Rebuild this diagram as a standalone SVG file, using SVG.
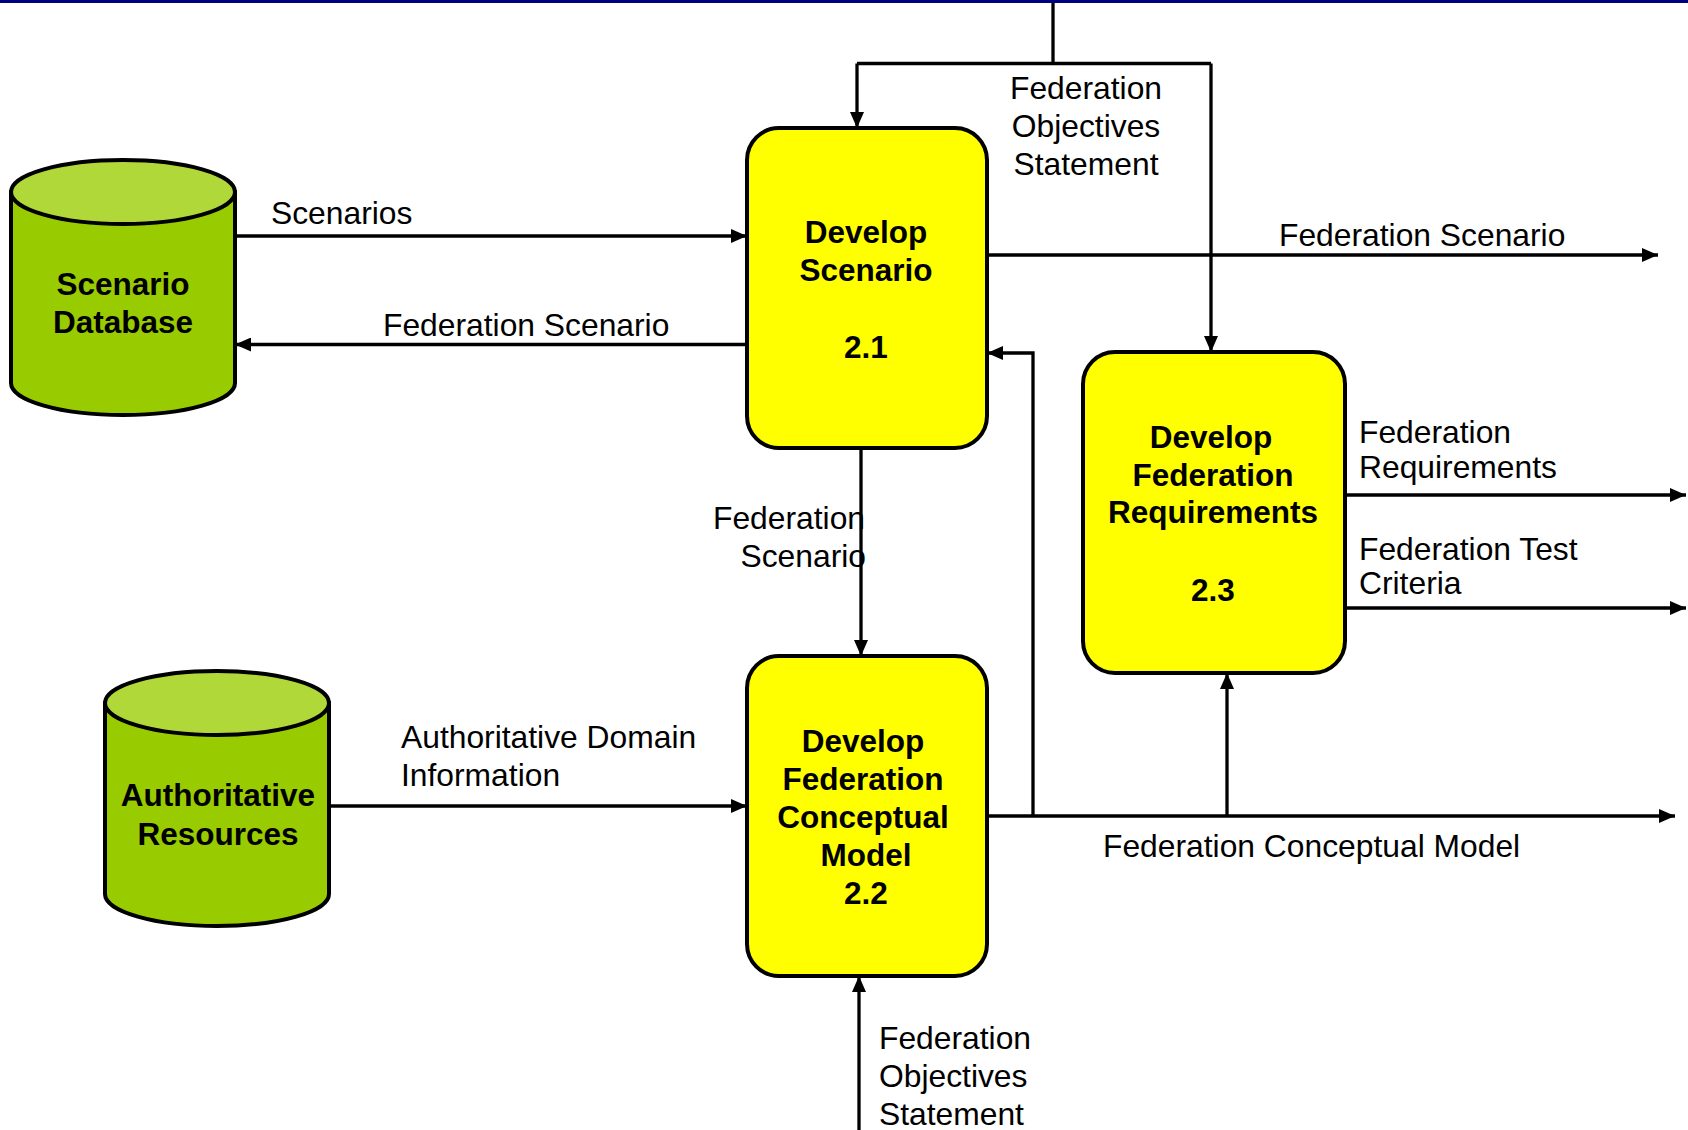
<svg xmlns="http://www.w3.org/2000/svg" width="1688" height="1130" viewBox="0 0 1688 1130">
  <style>
    .proc { fill: #FFFF00; stroke: #000; stroke-width: 4; }
    .body { fill: #99CC00; stroke: #000; stroke-width: 4; }
    .lid { fill: #B0D838; stroke: #000; stroke-width: 4; }
    .title { font-family: "Liberation Sans", Arial, sans-serif; font-size: 31.5px; font-weight: bold; fill: #000; text-anchor: middle; }
    .lbl { font-family: "Liberation Sans", Arial, sans-serif; font-size: 31.8px; fill: #000; }
    .flow { fill: none; stroke: #000; stroke-width: 3.3; }
  </style>
  <defs>
    <marker id="arrow" viewBox="0 0 16 14" refX="16" refY="7" markerWidth="16" markerHeight="14" markerUnits="userSpaceOnUse" orient="auto">
      <path d="M0,0 L16,7 L0,14 z" fill="#000"/>
    </marker>
  </defs>

  <rect x="0" y="0" width="1688" height="1130" fill="#fff"/>
  <!-- header rule -->
  <rect x="0" y="0" width="1688" height="3" fill="#000080"/>

  <!-- connectors -->
  <g id="connectors">
    <path class="flow" d="M1053,3 V63.5"/>
    <path class="flow" d="M857,63.5 H1211"/>
    <path class="flow" d="M857,63.5 V128" marker-end="url(#arrow)"/>
    <path class="flow" d="M1211,63.5 V352" marker-end="url(#arrow)"/>
    <path class="flow" d="M235,236 H747" marker-end="url(#arrow)"/>
    <path class="flow" d="M747,344.5 H235" marker-end="url(#arrow)"/>
    <path class="flow" d="M987,255 H1658" marker-end="url(#arrow)"/>
    <path class="flow" d="M861,448 V656" marker-end="url(#arrow)"/>
    <path class="flow" d="M329,806 H747" marker-end="url(#arrow)"/>
    <path class="flow" d="M987,816 H1675" marker-end="url(#arrow)"/>
    <path class="flow" d="M1033,816 V353 H987" marker-end="url(#arrow)"/>
    <path class="flow" d="M1227,816 V673" marker-end="url(#arrow)"/>
    <path class="flow" d="M1345,495 H1686" marker-end="url(#arrow)"/>
    <path class="flow" d="M1345,608 H1686" marker-end="url(#arrow)"/>
    <path class="flow" d="M859,1130 V976" marker-end="url(#arrow)"/>
  </g>

  <!-- connector labels -->
  <g id="labels">
    <text class="lbl" x="271" y="224">Scenarios</text>
    <text class="lbl" x="383" y="336">Federation Scenario</text>
    <text class="lbl" x="1086" y="99" text-anchor="middle">Federation</text>
    <text class="lbl" x="1086" y="137" text-anchor="middle">Objectives</text>
    <text class="lbl" x="1086" y="175" text-anchor="middle">Statement</text>
    <text class="lbl" x="1279" y="246">Federation Scenario</text>
    <text class="lbl" x="1359" y="443">Federation</text>
    <text class="lbl" x="1359" y="478">Requirements</text>
    <text class="lbl" x="1359" y="560">Federation Test</text>
    <text class="lbl" x="1359" y="594">Criteria</text>
    <text class="lbl" x="865" y="529" text-anchor="end">Federation</text>
    <text class="lbl" x="866" y="567" text-anchor="end">Scenario</text>
    <text class="lbl" x="401" y="748">Authoritative Domain</text>
    <text class="lbl" x="401" y="786">Information</text>
    <text class="lbl" x="1103" y="857">Federation Conceptual Model</text>
    <text class="lbl" x="879" y="1049">Federation</text>
    <text class="lbl" x="879" y="1087">Objectives</text>
    <text class="lbl" x="879" y="1125">Statement</text>
  </g>

  <!-- data stores -->
  <g id="scenario-database">
    <path class="body" d="M11,192 V383 A112,32 0 0 0 235,383 V192 Z"/>
    <ellipse class="lid" cx="123" cy="192" rx="112" ry="32"/>
    <text class="title" x="123" y="295">Scenario</text>
    <text class="title" x="123" y="333">Database</text>
  </g>

  <g id="authoritative-resources">
    <path class="body" d="M105,703 V894 A112,32 0 0 0 329,894 V703 Z"/>
    <ellipse class="lid" cx="217" cy="703" rx="112" ry="32"/>
    <text class="title" x="218" y="806">Authoritative</text>
    <text class="title" x="218" y="845">Resources</text>
  </g>

  <!-- processes -->
  <g id="develop-scenario">
    <rect class="proc" x="747" y="128" width="240" height="320" rx="32" ry="32"/>
    <text class="title" x="866" y="243">Develop</text>
    <text class="title" x="866" y="281">Scenario</text>
    <text class="title" x="866" y="358">2.1</text>
  </g>

  <g id="develop-federation-requirements">
    <rect class="proc" x="1083" y="352" width="262" height="321" rx="32" ry="32"/>
    <text class="title" x="1211" y="448">Develop</text>
    <text class="title" x="1213" y="486">Federation</text>
    <text class="title" x="1213" y="523">Requirements</text>
    <text class="title" x="1213" y="601">2.3</text>
  </g>

  <g id="develop-conceptual-model">
    <rect class="proc" x="747" y="656" width="240" height="320" rx="32" ry="32"/>
    <text class="title" x="863" y="752">Develop</text>
    <text class="title" x="863" y="790">Federation</text>
    <text class="title" x="863" y="828">Conceptual</text>
    <text class="title" x="866" y="866">Model</text>
    <text class="title" x="866" y="904">2.2</text>
  </g>
</svg>
